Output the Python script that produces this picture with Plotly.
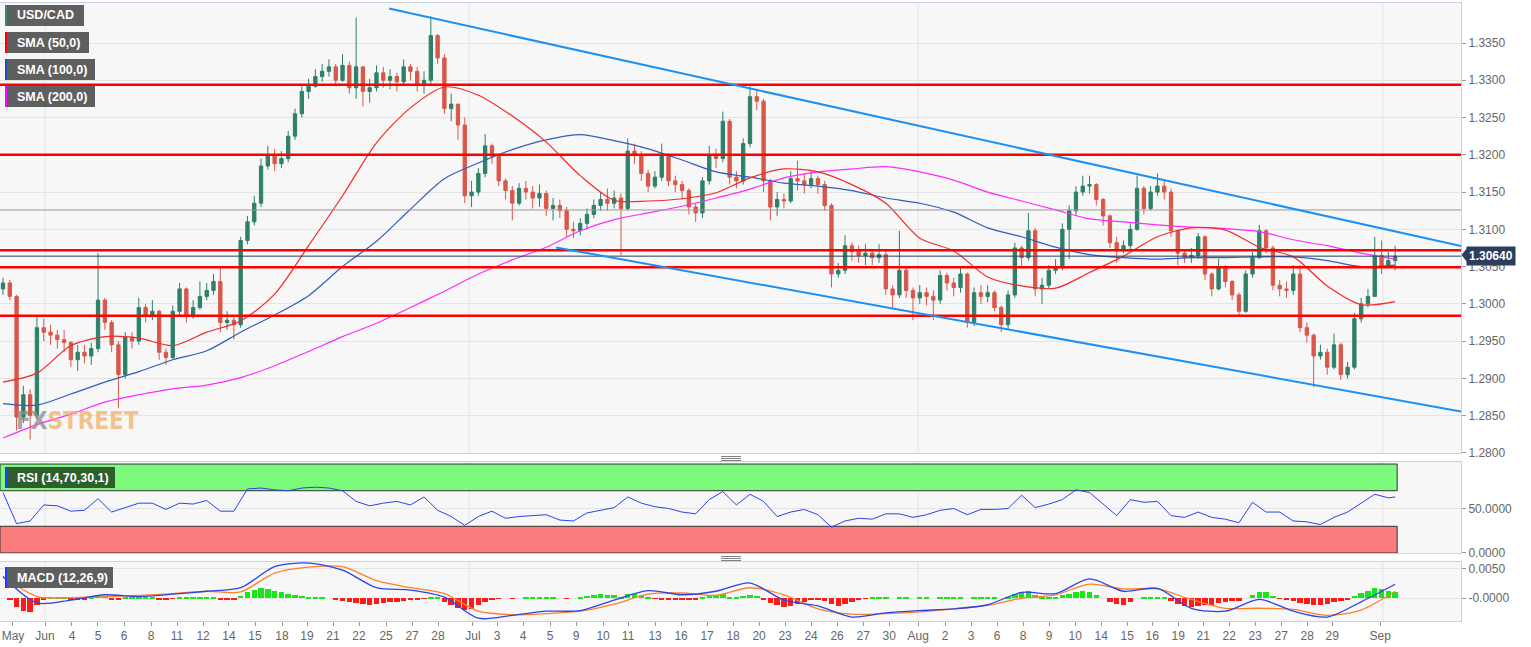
import plotly.graph_objects as go

# ---------------- DATA ----------------
# 8-hour candles, index 0..205 (x axis = candle index)
first_open = 1.3020
close = [
    1.3028, 1.3010, 1.2848, 1.2878, 1.2850, 1.2968, 1.2962, 1.2958, 1.2952, 1.2948,
    1.2925, 1.2935, 1.2930, 1.2940, 1.3005, 1.2975, 1.2945, 1.2905, 1.2955, 1.2950,
    1.2995, 1.2985, 1.2990, 1.2935, 1.2928, 1.2990, 1.3020, 1.2985, 1.2995, 1.3010,
    1.3018, 1.3030, 1.2975, 1.2978, 1.2972, 1.3085, 1.3110, 1.3135, 1.3185, 1.3200,
    1.3188, 1.3195, 1.3225, 1.3255, 1.3285, 1.3292, 1.3305, 1.3312, 1.3318, 1.3300,
    1.3320, 1.3290, 1.3318, 1.3285, 1.3290, 1.3310, 1.3300, 1.3305, 1.3298, 1.3318,
    1.3312, 1.3295, 1.3300, 1.3360, 1.3330, 1.3262, 1.3268, 1.3240, 1.3145, 1.3150,
    1.3175, 1.3212, 1.3198, 1.3165, 1.3152, 1.3135, 1.3155, 1.3150, 1.3142, 1.3148,
    1.3128, 1.3132, 1.3125, 1.3100, 1.3098, 1.3108, 1.3120, 1.3132, 1.3140, 1.3135,
    1.3142, 1.3128, 1.3205, 1.3200, 1.3175, 1.3158, 1.3170, 1.3200, 1.3165, 1.3160,
    1.3152, 1.3130, 1.3122, 1.3165, 1.3200, 1.3195, 1.3245, 1.3170, 1.3165, 1.3215,
    1.3278, 1.3272, 1.3165, 1.3130, 1.3140, 1.3138, 1.3168, 1.3165, 1.3160, 1.3168,
    1.3160, 1.3132, 1.3040, 1.3045, 1.3078, 1.3070, 1.3065, 1.3068, 1.3062, 1.3066,
    1.3020, 1.3012, 1.3045, 1.3018, 1.3008, 1.3015, 1.3010, 1.3005, 1.3038, 1.3028,
    1.3022, 1.3040, 1.2975, 1.3015, 1.3010, 1.3015, 1.2995, 1.2972, 1.3012, 1.3075,
    1.3062, 1.3098, 1.3020, 1.3025, 1.3045, 1.3050, 1.3100, 1.3125, 1.3150, 1.3158,
    1.3160, 1.3140, 1.3118, 1.3082, 1.3072, 1.3078, 1.3100, 1.3155, 1.3128, 1.3150,
    1.3158, 1.3150, 1.3098, 1.3068, 1.3062, 1.3065, 1.3090, 1.3040, 1.3020, 1.3050,
    1.3030, 1.3012, 1.2990, 1.3040, 1.3062, 1.3098, 1.3075, 1.3025, 1.3020, 1.3018,
    1.3040, 1.2968, 1.2958, 1.2930, 1.2935, 1.2915, 1.2945, 1.2905, 1.2915, 1.2980,
    1.3000, 1.3010, 1.3065, 1.3050, 1.3058, 1.3064,
]
high = [
    1.3035, 1.3032, 1.3012, 1.2890, 1.2885, 1.2985, 1.2980, 1.2972, 1.2965, 1.2965,
    1.2950, 1.2945, 1.2945, 1.2948, 1.3068, 1.3008, 1.2978, 1.2950, 1.2962, 1.2962,
    1.3008, 1.3000, 1.3005, 1.2992, 1.2940, 1.2998, 1.3028, 1.3022, 1.3005, 1.3030,
    1.3028, 1.3040, 1.3048, 1.2990, 1.2985, 1.3090, 1.3118, 1.3145, 1.3195, 1.3212,
    1.3208, 1.3205, 1.3232, 1.3262, 1.3292, 1.3302, 1.3315, 1.3322, 1.3328, 1.3322,
    1.3335, 1.3325, 1.3384, 1.3318, 1.3302, 1.3320, 1.3318, 1.3315, 1.3310, 1.3328,
    1.3322, 1.3318, 1.3312, 1.3386, 1.3362, 1.3335, 1.3282, 1.3268, 1.3250, 1.3165,
    1.3182, 1.3228, 1.3215, 1.3200, 1.3168, 1.3158, 1.3162, 1.3165, 1.3158, 1.3160,
    1.3152, 1.3142, 1.3140, 1.3130, 1.3110, 1.3115, 1.3128, 1.3140, 1.3150, 1.3155,
    1.3152, 1.3148, 1.3222, 1.3215, 1.3205, 1.3180, 1.3178, 1.3215, 1.3202, 1.3172,
    1.3165, 1.3155, 1.3135, 1.3170, 1.3212, 1.3208, 1.3258, 1.3248, 1.3178, 1.3222,
    1.3292, 1.3288, 1.3275, 1.3168, 1.3150, 1.3148, 1.3178, 1.3192, 1.3175, 1.3178,
    1.3172, 1.3165, 1.3135, 1.3055, 1.3092, 1.3082, 1.3078, 1.3080, 1.3072, 1.3080,
    1.3072, 1.3025, 1.3098, 1.3050, 1.3022, 1.3025, 1.3022, 1.3018, 1.3045, 1.3042,
    1.3035, 1.3048, 1.3042, 1.3022, 1.3025, 1.3025, 1.3018, 1.2998, 1.3018, 1.3082,
    1.3078, 1.3122, 1.3102, 1.3035, 1.3052, 1.3060, 1.3108, 1.3132, 1.3158, 1.3172,
    1.3172, 1.3162, 1.3142, 1.3120, 1.3090, 1.3085, 1.3108, 1.3172, 1.3158, 1.3158,
    1.3175, 1.3165, 1.3155, 1.3100, 1.3072, 1.3075, 1.3095, 1.3092, 1.3042, 1.3060,
    1.3052, 1.3032, 1.3015, 1.3045, 1.3070, 1.3106, 1.3100, 1.3078, 1.3032, 1.3030,
    1.3052, 1.3052, 1.2975, 1.2960, 1.2945, 1.2940, 1.2960, 1.2948, 1.2922, 1.2988,
    1.3008, 1.3020, 1.3090, 1.3085, 1.3070, 1.3078,
]
low = [
    1.3012, 1.3005, 1.2830, 1.2840, 1.2818, 1.2845, 1.2950, 1.2945, 1.2940, 1.2935,
    1.2915, 1.2910, 1.2920, 1.2918, 1.2935, 1.2965, 1.2935, 1.2860, 1.2900, 1.2940,
    1.2945, 1.2975, 1.2978, 1.2925, 1.2918, 1.2925, 1.2985, 1.2975, 1.2980, 1.2992,
    1.3005, 1.3012, 1.2962, 1.2965, 1.2952, 1.2968, 1.3080, 1.3105, 1.3130, 1.3180,
    1.3178, 1.3182, 1.3190, 1.3220, 1.3250, 1.3275, 1.3290, 1.3298, 1.3305, 1.3292,
    1.3298, 1.3282, 1.3275, 1.3265, 1.3270, 1.3285, 1.3290, 1.3288, 1.3285, 1.3295,
    1.3300, 1.3285, 1.3282, 1.3295, 1.3322, 1.3255, 1.3245, 1.3220, 1.3135, 1.3130,
    1.3145, 1.3170, 1.3188, 1.3158, 1.3140, 1.3112, 1.3132, 1.3140, 1.3128, 1.3130,
    1.3118, 1.3112, 1.3115, 1.3090, 1.3088, 1.3092, 1.3100, 1.3115, 1.3125, 1.3125,
    1.3128, 1.3065, 1.3125, 1.3188, 1.3165, 1.3150, 1.3155, 1.3165, 1.3158, 1.3150,
    1.3140, 1.3120, 1.3110, 1.3115, 1.3160, 1.3182, 1.3190, 1.3160, 1.3155, 1.3160,
    1.3210, 1.3260, 1.3150, 1.3112, 1.3118, 1.3128, 1.3135, 1.3152, 1.3148, 1.3155,
    1.3148, 1.3125, 1.3022, 1.3035, 1.3040, 1.3058, 1.3055, 1.3052, 1.3052, 1.3055,
    1.3012, 1.2995, 1.3008, 1.3008, 1.2978, 1.3000, 1.2998, 1.2978, 1.3000, 1.3018,
    1.3010, 1.3015, 1.2968, 1.2970, 1.3000, 1.3002, 1.2990, 1.2962, 1.2965, 1.3008,
    1.3050, 1.3058, 1.3010, 1.3000, 1.3020, 1.3040, 1.3045, 1.3060, 1.3118, 1.3145,
    1.3148, 1.3132, 1.3105, 1.3075, 1.3055, 1.3068, 1.3072, 1.3098, 1.3120, 1.3125,
    1.3145, 1.3140, 1.3090, 1.3052, 1.3055, 1.3055, 1.3060, 1.3032, 1.3010, 1.3018,
    1.3022, 1.3005, 1.2985, 1.2988, 1.3035, 1.3060, 1.3068, 1.3018, 1.3010, 1.3008,
    1.3012, 1.2962, 1.2948, 1.2888, 1.2925, 1.2905, 1.2912, 1.2898, 1.2900, 1.2912,
    1.2975, 1.2995, 1.3010, 1.3040, 1.3048, 1.3045,
]

# moving averages sampled every 5 candles (index 0, 5, ..., 205)
sma_step = 5
sma50 = [1.2895, 1.2907, 1.2944, 1.2956, 1.2954, 1.2944, 1.2962, 1.2977, 1.3013, 1.3078,
         1.3145, 1.3216, 1.3263, 1.3291, 1.3280, 1.3252, 1.3217, 1.3172, 1.3139, 1.3138,
         1.3141, 1.3149, 1.3169, 1.3181, 1.3177, 1.3160, 1.3135, 1.3088, 1.3071, 1.3036,
         1.3024, 1.3021, 1.3042, 1.3064, 1.3090, 1.3102, 1.3099, 1.3076, 1.3063, 1.3024,
         1.2999, 1.3003]
sma100 = [1.2866, 1.2864, 1.2879, 1.2895, 1.2909, 1.2925, 1.2937, 1.2962, 1.2985, 1.3011,
          1.3050, 1.3084, 1.3127, 1.3168, 1.3189, 1.3207, 1.3220, 1.3227, 1.3219, 1.3208,
          1.3193, 1.3177, 1.3170, 1.3162, 1.3158, 1.3152, 1.3142, 1.3135, 1.3123, 1.3102,
          1.3090, 1.3076, 1.3066, 1.3062, 1.3060, 1.3062, 1.3062, 1.3063, 1.3063, 1.3058,
          1.3050, 1.3052]
sma200 = [1.2820, 1.2838, 1.2852, 1.2868, 1.2878, 1.2886, 1.2891, 1.2901, 1.2917, 1.2936,
          1.2956, 1.2974, 1.2995, 1.3017, 1.3040, 1.3059, 1.3076, 1.3098, 1.3113, 1.3122,
          1.3131, 1.3142, 1.3154, 1.3169, 1.3177, 1.3181, 1.3184, 1.3177, 1.3166, 1.3150,
          1.3138, 1.3126, 1.3114, 1.3110, 1.3106, 1.3103, 1.3101, 1.3097, 1.3086, 1.3078,
          1.3068, 1.3060]

# RSI sampled every 2 candles (0, 2, ..., 204) plus the last candle (205)
rsi_step = 2
rsi = [68, 33, 36, 54, 53, 47, 48, 61, 46, 51,
       56, 56, 49, 56, 55, 59, 47, 47, 72, 73,
       71, 70, 73, 74, 73, 70, 58, 53, 56, 58,
       54, 63, 48, 41, 31, 41, 47, 39, 41, 42,
       43, 37, 36, 45, 48, 51, 63, 56, 52, 50,
       46, 44, 60, 69, 54, 66, 58, 41, 46, 49,
       43, 29, 36, 39, 38, 44, 44, 40, 43, 48,
       50, 43, 49, 49, 50, 65, 51, 55, 60, 71,
       68, 55, 42, 60, 57, 58, 42, 40, 46, 40,
       38, 34, 57, 46, 46, 36, 35, 32, 40, 46,
       56, 66, 62, 63]

# MACD lines sampled every 5 candles, histogram per candle
macd_line = [0.0037, -0.0008, -0.0003, 0.0006, 0.0003, 0.0007, 0.0012, 0.0018, 0.0054, 0.0060,
             0.0048, 0.0018, 0.0014, 0.0002, -0.0034, -0.0029, -0.0022, -0.0021, -0.0003, 0.0013,
             0.0006, 0.0012, 0.0026, -0.0003, -0.0013, -0.0032, -0.0025, -0.0021, -0.0018, -0.0011,
             0.0010, 0.0008, 0.0033, 0.0012, 0.0017, -0.0017, -0.0022, -0.0002, -0.0022, -0.0032,
             -0.0006, 0.0024]
macd_signal = [0.0037, 0.0003, 0.0001, 0.0003, 0.0005, 0.0008, 0.0012, 0.0011, 0.0043, 0.0053,
               0.0054, 0.0030, 0.0018, 0.0008, -0.0022, -0.0028, -0.0026, -0.0022, -0.0010, 0.0007,
               0.0009, 0.0005, 0.0018, 0.0006, -0.0018, -0.0027, -0.0026, -0.0023, -0.0018, -0.0012,
               0.0000, 0.0006, 0.0024, 0.0016, 0.0016, -0.0002, -0.0017, -0.0017, -0.0019, -0.0029,
               -0.0020, 0.0012]
macd_hist = [
    0.0000, -0.0003, -0.0015, -0.0022, -0.0023, -0.0012, -0.0003, 0.0002, 0.0003, 0.0002,
    -0.0002, -0.0003, -0.0002, 0.0001, 0.0005, 0.0004, -0.0003, -0.0002, 0.0001, 0.0002,
    0.0003, 0.0003, 0.0001, -0.0002, -0.0003, -0.0001, 0.0001, 0.0001, 0.0001, 0.0001,
    0.0001, 0.0001, -0.0002, -0.0003, -0.0003, 0.0004, 0.0010, 0.0014, 0.0017, 0.0016,
    0.0013, 0.0010, 0.0007, 0.0005, 0.0004, 0.0003, 0.0002, 0.0001, 0.0000, -0.0002,
    -0.0004, -0.0006, -0.0008, -0.0010, -0.0011, -0.0010, -0.0008, -0.0007, -0.0006, -0.0004,
    -0.0003, -0.0002, -0.0001, 0.0002, 0.0001, -0.0006, -0.0012, -0.0016, -0.0020, -0.0019,
    -0.0012, -0.0006, -0.0002, -0.0001, 0.0000, -0.0001, 0.0000, 0.0001, 0.0002, 0.0002,
    0.0001, 0.0001, 0.0000, -0.0001, 0.0000, 0.0002, 0.0004, 0.0006, 0.0007, 0.0006,
    0.0005, 0.0003, 0.0007, 0.0008, 0.0006, 0.0002, -0.0001, -0.0002, -0.0003, -0.0003,
    -0.0003, -0.0003, -0.0002, 0.0001, 0.0004, 0.0005, 0.0007, 0.0003, 0.0001, 0.0004,
    0.0006, 0.0004, -0.0002, -0.0008, -0.0012, -0.0015, -0.0013, -0.0010, -0.0006, -0.0003,
    -0.0002, -0.0005, -0.0010, -0.0013, -0.0010, -0.0006, -0.0003, -0.0001, 0.0001, 0.0002,
    0.0001, 0.0000, 0.0001, 0.0001, 0.0000, 0.0001, 0.0001, 0.0000, 0.0002, 0.0002,
    0.0002, 0.0002, 0.0000, 0.0001, 0.0002, 0.0002, 0.0001, 0.0000, 0.0002, 0.0008,
    0.0011, 0.0012, 0.0006, 0.0003, 0.0002, 0.0002, 0.0005, 0.0008, 0.0011, 0.0012,
    0.0010, 0.0006, 0.0000, -0.0006, -0.0010, -0.0011, -0.0006, 0.0000, 0.0001, 0.0002,
    0.0002, 0.0001, -0.0004, -0.0010, -0.0013, -0.0015, -0.0013, -0.0012, -0.0011, -0.0008,
    -0.0007, -0.0005, -0.0004, 0.0000, 0.0006, 0.0011, 0.0010, 0.0004, -0.0001, -0.0003,
    -0.0004, -0.0008, -0.0010, -0.0011, -0.0011, -0.0009, -0.0006, -0.0004, -0.0002, 0.0004,
    0.0009, 0.0013, 0.0018, 0.0016, 0.0012, 0.0010,
]

# x axis (candle-index) tick labels
tick_labels = ["May", "Jun", "4", "5", "6", "8", "11", "12", "14", "15", "18", "19", "21", "22",
               "25", "27", "28", "Jul", "3", "4", "5", "9", "10", "11", "13", "16", "17", "18",
               "20", "23", "24", "26", "27", "30", "Aug", "2", "3", "6", "8", "9", "10", "14",
               "15", "16", "19", "21", "22", "23", "27", "28", "29", "Sep"]
tick_index = [1.47, 6.19, 10.16, 13.99, 17.82, 21.8, 25.63, 29.46, 33.28, 37.11, 41.09, 44.77,
              48.6, 52.43, 56.41, 60.24, 64.06, 69.2, 72.75, 76.58, 80.56, 84.39, 88.37, 92.05,
              96.02, 99.85, 103.68, 107.51, 111.34, 115.17, 119.0, 122.83, 126.66, 130.49,
              134.76, 138.73, 142.56, 146.39, 150.22, 154.05, 157.88, 161.71, 165.54, 169.22,
              173.05, 176.73, 180.56, 184.39, 188.22, 192.05, 195.73, 202.8]
month_start_index = [6.19, 68.63, 134.76, 203.2]

price_ticks = [1.2800, 1.2850, 1.2900, 1.2950, 1.3000, 1.3050, 1.3100, 1.3150,
               1.3200, 1.3250, 1.3300, 1.3350]

# analyst drawings
sr_levels = [1.3294, 1.3200, 1.3072, 1.3049, 1.2984]
channel_upper = [(56.85, 1.33963), (214.7, 1.30777)]
channel_lower = [(81.44, 1.30757), (214.7, 1.28554)]
last_price = 1.3064
grey_level = 1.3126

# ---------------- FIGURE ----------------
N = len(close)
idx = list(range(N))
opens = [first_open] + close[:-1]
highs = [max(h, o, c) for h, o, c in zip(high, opens, close)]
lows = [min(l, o, c) for l, o, c in zip(low, opens, close)]
sma_x = list(range(0, N, sma_step))
rsi_x = list(range(0, N, rsi_step)) + [N - 1]

W, H = 1531, 647
ML, MR, MT, MB = 0, 70, 3, 26
PW, PH = W - ML - MR, H - MT - MB
XR = [-0.44, 214.7]
D_MAIN, D_RSI, D_MACD = [0.2718, 1.0], [0.1100, 0.2573], [0.0, 0.0955]
YR_MAIN = [1.27998, 1.34037]
YR_RSI = [-0.05, 102.3]
YR_MACD = [-0.00387, 0.00619]

GREEN = "#2e8068"
RED = "#d9574a"
BORDER = "#c9d1e3"
GRID = "#e4e4e4"
TICKFONT = dict(family="Liberation Sans, Arial, sans-serif", size=12, color="#666666")


def pxx(px):
    return px / PW


def pxy(py):
    return (MT + PH - py) / PH


fig = go.Figure()

fig.add_trace(go.Candlestick(
    x=idx, open=opens, high=highs, low=lows, close=close,
    increasing=dict(line=dict(color=GREEN, width=1), fillcolor=GREEN),
    decreasing=dict(line=dict(color=RED, width=1), fillcolor=RED),
    whiskerwidth=0, xaxis="x", yaxis="y", showlegend=False, hoverinfo="skip"))

for vals, col in [(sma200, "#ff2bff"), (sma100, "#2f5fb8"), (sma50, "#f22a2a")]:
    fig.add_trace(go.Scatter(x=sma_x, y=vals, mode="lines",
                             line=dict(color=col, width=1.2, shape="spline", smoothing=0.8),
                             xaxis="x", yaxis="y", showlegend=False, hoverinfo="skip"))

fig.add_trace(go.Scatter(x=rsi_x, y=rsi, mode="lines", line=dict(color="#2b44e8", width=1),
                         xaxis="x2", yaxis="y2", showlegend=False, hoverinfo="skip"))

fig.add_trace(go.Bar(x=idx, y=macd_hist, width=0.8,
                     marker=dict(color=["#19e619" if v >= 0 else "#ff1a1a" for v in macd_hist],
                                 line=dict(width=0)),
                     xaxis="x3", yaxis="y3", showlegend=False, hoverinfo="skip"))
fig.add_trace(go.Scatter(x=sma_x, y=macd_signal, mode="lines",
                         line=dict(color="#ff7f2a", width=1.3, shape="spline", smoothing=0.8),
                         xaxis="x3", yaxis="y3", showlegend=False, hoverinfo="skip"))
fig.add_trace(go.Scatter(x=sma_x, y=macd_line, mode="lines",
                         line=dict(color="#2b44e8", width=1.3, shape="spline", smoothing=0.8),
                         xaxis="x3", yaxis="y3", showlegend=False, hoverinfo="skip"))

shapes = []
# month grid lines in every panel
for m in month_start_index:
    for xa, ya in [("x", "y"), ("x2", "y2"), ("x3", "y3")]:
        shapes.append(dict(type="line", xref=xa, yref=ya + " domain", x0=m, x1=m, y0=0, y1=1,
                           line=dict(color=GRID, width=1), layer="below"))
# RSI zones
shapes.append(dict(type="rect", xref="x2", yref="y2", x0=XR[0], x1=205.3, y0=70, y1=100,
                   fillcolor="#7bfa7b", line=dict(color="#333333", width=1), layer="below"))
shapes.append(dict(type="rect", xref="x2", yref="y2", x0=XR[0], x1=205.3, y0=0, y1=30,
                   fillcolor="#fb7d7d", line=dict(color="#333333", width=1), layer="below"))
# grey reference line and last price line
shapes.append(dict(type="line", xref="x domain", yref="y", x0=0, x1=1, y0=grey_level, y1=grey_level,
                   line=dict(color="#9a9a9a", width=1)))
shapes.append(dict(type="line", xref="x domain", yref="y", x0=0, x1=1, y0=last_price, y1=last_price,
                   line=dict(color="#2c3e5c", width=1)))
# support / resistance levels
for lv in sr_levels:
    shapes.append(dict(type="line", xref="x domain", yref="y", x0=0, x1=1, y0=lv, y1=lv,
                       line=dict(color="#ff0000", width=2.5)))
# channel lines
for (x0, y0), (x1, y1) in [channel_upper, channel_lower]:
    shapes.append(dict(type="line", xref="x", yref="y", x0=x0, y0=y0, x1=x1, y1=y1,
                       line=dict(color="#1e90f0", width=2)))

annotations = []
# legend boxes
boxes = [("USD/CAD", 5, 84, 5, 26, "#5f5f5f", "#2e8b74"),
         ("SMA (50,0)", 5, 89, 32, 53, "#5f5f5f", "#ff0000"),
         ("SMA (100,0)", 5, 95, 59, 80, "#5f5f5f", "#1f4fa8"),
         ("SMA (200,0)", 5, 95, 86, 107, "#5f5f5f", "#ff00ff"),
         ("RSI (14,70,30,1)", 5, 115, 467, 488, "#2e5e2e", "#1f3fff"),
         ("MACD (12,26,9)", 5, 113, 567, 588, "#5f5f5f", "#1f3fff")]
for txt, x0, x1, y0, y1, bg, stripe in boxes:
    shapes.append(dict(type="rect", xref="paper", yref="paper", x0=pxx(x0), x1=pxx(x1),
                       y0=pxy(y1), y1=pxy(y0), fillcolor=bg, line=dict(width=0)))
    shapes.append(dict(type="rect", xref="paper", yref="paper", x0=pxx(x0), x1=pxx(x0 + 2),
                       y0=pxy(y1), y1=pxy(y0), fillcolor=stripe, line=dict(width=0)))
    annotations.append(dict(xref="paper", yref="paper", x=pxx(15), y=pxy((y0 + y1) / 2),
                            xanchor="left", yanchor="middle", showarrow=False,
                            text="<b>%s</b>" % txt,
                            font=dict(family="Liberation Sans, Arial, sans-serif", size=12.5,
                                      color="white")))
# panel drag handles
for base in (456.5, 556.5):
    for k in range(3):
        yy = pxy(base + 2 * k)
        shapes.append(dict(type="line", xref="paper", yref="paper", x0=pxx(721), x1=pxx(741),
                           y0=yy, y1=yy, line=dict(color="#808080", width=1)))
# last price tag
tag_y = pxy(255)
shapes.append(dict(type="path", xref="paper", yref="paper",
                   path="M %f %f L %f %f L %f %f Z" % (pxx(1461.5), tag_y, pxx(1467.5), pxy(247.5),
                                                       pxx(1467.5), pxy(262.5)),
                   fillcolor="#2c3e5c", line=dict(width=0)))
annotations.append(dict(xref="paper", yref="y", x=pxx(1466), y=last_price, xanchor="left",
                        yanchor="middle", showarrow=False, text="<b>%.5f</b>" % last_price,
                        bgcolor="#2c3e5c", borderpad=2,
                        font=dict(family="Liberation Sans, Arial, sans-serif", size=12,
                                  color="white")))
# watermark
annotations.append(dict(xref="paper", yref="paper", x=pxx(14), y=pxy(421), xanchor="left",
                        yanchor="middle", showarrow=False,
                        text="<b><span style='color:rgba(140,140,140,0.75)'>FX</span>"
                             "<span style='color:rgba(240,170,95,0.7)'>STREET</span></b>",
                        font=dict(family="Liberation Sans Narrow, DejaVu Sans Condensed, "
                                         "Liberation Sans, sans-serif",
                                  size=24)))

axis_common = dict(showline=True, mirror=True, linecolor=BORDER, linewidth=1, zeroline=False)

fig.update_layout(
    width=W, height=H,
    margin=dict(l=ML, r=MR, t=MT, b=MB),
    paper_bgcolor="white", plot_bgcolor="#f7f7f7",
    showlegend=False, bargap=0,
    shapes=shapes, annotations=annotations,
    xaxis=dict(domain=[0, 1], anchor="y", range=XR, showticklabels=False, showgrid=False,
               rangeslider=dict(visible=False), **axis_common),
    xaxis2=dict(domain=[0, 1], anchor="y2", range=XR, showticklabels=False, showgrid=False,
                **axis_common),
    xaxis3=dict(domain=[0, 1], anchor="y3", range=XR, showgrid=False, tickmode="array",
                tickvals=tick_index, ticktext=tick_labels, ticks="outside", ticklen=4,
                tickcolor="#999999", tickfont=TICKFONT, **axis_common),
    yaxis=dict(domain=D_MAIN, anchor="x", side="right", range=YR_MAIN, tickmode="array",
               tickvals=price_ticks, ticktext=["%.4f" % v for v in price_ticks],
               ticks="outside", ticklen=4, tickcolor="#999999", tickfont=TICKFONT,
               showgrid=True, gridcolor=GRID, **axis_common),
    yaxis2=dict(domain=D_RSI, anchor="x2", side="right", range=YR_RSI, tickmode="array",
                tickvals=[0, 50], ticktext=["0.0000", "50.0000"], ticks="outside", ticklen=4,
                tickcolor="#999999", tickfont=TICKFONT, showgrid=True, gridcolor=GRID,
                **axis_common),
    yaxis3=dict(domain=D_MACD, anchor="x3", side="right", range=YR_MACD, tickmode="array",
                tickvals=[0, 0.005], ticktext=["-0.0000", "0.0050"], ticks="outside", ticklen=4,
                tickcolor="#999999", tickfont=TICKFONT, showgrid=True, gridcolor=GRID,
                **axis_common),
)

fig.write_html("out.html", config={"displayModeBar": False},
               post_script="document.body.style.margin='0px';")
